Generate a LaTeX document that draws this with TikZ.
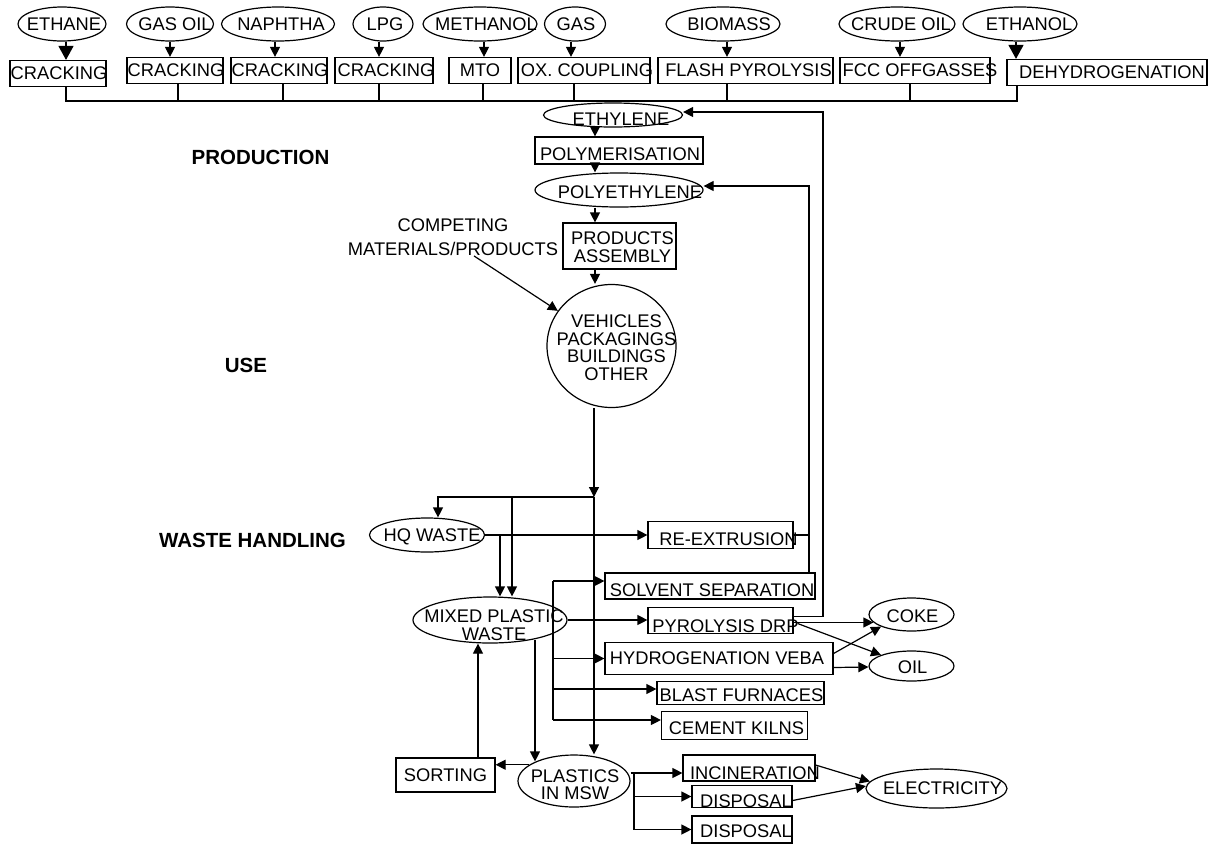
\documentclass[tikz,border=0pt]{standalone}
\usepackage{fontspec}
\setmainfont{Liberation Sans}
\usetikzlibrary{shapes.geometric,arrows.meta}
\newcommand\fsz{\fontsize{18.3}{17.5}\selectfont}
\newcommand\bsz{\fontsize{20.5}{22}\selectfont\bfseries}
\tikzset{
 bx/.style={draw, rectangle, inner sep=0pt, line width=1.2pt},
 el/.style={draw, ellipse, inner sep=0pt, line width=1.2pt},
 every label/.style={font=\fsz, inner sep=0pt, align=center},
 arr/.style={line width=1.2pt, -{Triangle[length=10pt,width=10pt]}},
 bigarr/.style={line width=1.3pt, -{Triangle[length=14pt,width=15pt]}},
 ln/.style={line width=1.2pt},
 sec/.style={font=\bsz, inner sep=0pt},
}
\begin{document}
\begin{tikzpicture}[x=1pt,y=-1pt]
\fill[white] (0,0) rectangle (1217,844);
\useasboundingbox (0,0) rectangle (1217,844);

% --- feedstocks
\node[el, minimum width=88pt, minimum height=34pt, label={[xshift=2pt]center:ETHANE}] (ethane) at (62,24) {};
\node[el, minimum width=87pt, minimum height=34pt, label={[xshift=5pt]center:GAS OIL}] (gasoil) at (170,24) {};
\node[el, minimum width=113pt, minimum height=34pt, label={[xshift=3pt]center:NAPHTHA}] (naphtha) at (278,24) {};
\node[el, minimum width=60pt, minimum height=34pt, label={[xshift=2pt]center:LPG}] (lpg) at (383,24) {};
\node[el, minimum width=114pt, minimum height=34pt, label={[xshift=6pt]center:METHANOL}] (methanol) at (480,24) {};
\node[el, minimum width=61pt, minimum height=34pt, label={[xshift=1pt]center:GAS}] (gas) at (575,24) {};
\node[el, minimum width=114pt, minimum height=34pt, label={[xshift=6pt]center:BIOMASS}] (biomass) at (723,24) {};
\node[el, minimum width=116pt, minimum height=34pt, label={[xshift=4pt]center:CRUDE OIL}] (crude) at (897,24) {};
\node[el, minimum width=114pt, minimum height=34pt, label={[xshift=9pt]center:ETHANOL}] (ethanol) at (1020,24) {};

% --- processes
\node[bx, minimum width=96pt, minimum height=26pt, label={[xshift=1pt]center:CRACKING}] (crack1) at (58,73.5) {};
\node[bx, minimum width=96pt, minimum height=26pt, label={[xshift=1pt]center:CRACKING}] (crack2) at (175,70.5) {};
\node[bx, minimum width=96pt, minimum height=26pt, label={[xshift=1pt]center:CRACKING}] (crack3) at (279,70.5) {};
\node[bx, minimum width=98pt, minimum height=26pt, label={[xshift=2pt]center:CRACKING}] (crack4) at (384,70.5) {};
\node[bx, minimum width=62pt, minimum height=26pt, label={center:MTO}] (mto) at (480,70.5) {};
\node[bx, minimum width=132pt, minimum height=26pt, label={[xshift=3pt]center:OX. COUPLING}] (ox) at (584,70.5) {};
\node[bx, minimum width=175pt, minimum height=26pt, label={[xshift=3pt]center:FLASH PYROLYSIS}] (flash) at (745.5,70.5) {};
\node[bx, minimum width=150pt, minimum height=26pt, label={[xshift=5pt]center:FCC OFFGASSES}] (fcc) at (915,70.5) {};
\node[bx, minimum width=200pt, minimum height=26pt, label={[xshift=5pt]center:DEHYDROGENATION}] (dehydro) at (1107,72.5) {};

\draw[bigarr] (66,0 |- ethane.south) -- (66,0 |- crack1.north);
\draw[arr] (170,0 |- gasoil.south) -- (170,0 |- crack2.north);
\draw[arr] (275,0 |- naphtha.south) -- (275,0 |- crack3.north);
\draw[arr] (379,0 |- lpg.south) -- (379,0 |- crack4.north);
\draw[arr] (484,0 |- methanol.south) -- (484,0 |- mto.north);
\draw[arr] (571,0 |- gas.south) -- (571,0 |- ox.north);
\draw[arr] (727,0 |- biomass.south) -- (727,0 |- flash.north);
\draw[arr] (900,0 |- crude.south) -- (900,0 |- fcc.north);
\draw[bigarr] (1016,0 |- ethanol.south) -- (1016,0 |- dehydro.north);

% --- production chain
\node[el, minimum width=139pt, minimum height=24pt, label={[xshift=8pt,yshift=-4pt]center:ETHYLENE}] (ethylene) at (613,115) {};
\node[bx, minimum width=168pt, minimum height=27pt, label={[xshift=1pt,yshift=-4pt]center:POLYMERISATION}] (polym) at (619,150.5) {};
\node[el, minimum width=168pt, minimum height=34pt, label={[xshift=11pt,yshift=-2pt]center:POLYETHYLENE}] (polyeth) at (619,190) {};
\node[bx, minimum width=113pt, minimum height=46pt, label={[xshift=3pt,yshift=-1pt]center:{PRODUCTS\\ASSEMBLY}}] (products) at (619.5,246) {};
\node[el, minimum width=129pt, minimum height=123pt, label={[xshift=5pt,yshift=-1.5pt]center:{VEHICLES\\PACKAGINGS\\BUILDINGS\\OTHER}}] (usecirc) at (611.5,346) {};
\node[font=\fontsize{18.3}{24.5}\selectfont, align=center, inner sep=0pt] (competing) at (453,237) {COMPETING\\MATERIALS/PRODUCTS};

\coordinate (bus) at (0,101);
\draw[line width=2pt] (66,0 |- crack1.south) -- (66,0 |- bus) -- (1017,0 |- bus) -- (1017,0 |- dehydro.south);
\draw[ln] (178,0 |- crack2.south) -- (178,0 |- bus);
\draw[ln] (283,0 |- crack3.south) -- (283,0 |- bus);
\draw[ln] (379,0 |- crack4.south) -- (379,0 |- bus);
\draw[ln] (483,0 |- mto.south) -- (483,0 |- bus);
\draw[ln] (727,0 |- flash.south) -- (727,0 |- bus);
\draw[ln] (910,0 |- fcc.south) -- (910,0 |- bus);
\draw[ln] (574,0 |- ox.south) -- (574,0 |- ethylene.north);

\draw[arr] (595,0 |- ethylene.south) -- (595,0 |- polym.north);
\draw[arr] (595,0 |- polym.south) -- (595,0 |- polyeth.north);
\draw[arr] (595,0 |- polyeth.south) -- (595,0 |- products.north);
\draw[arr] (595,0 |- products.south) -- (595,0 |- usecirc.north);
\draw[arr] ([xshift=21pt]competing.south) -- (usecirc);

% --- section titles
\node[sec] (production) at (260.5,157.5) {PRODUCTION};
\node[sec] (use) at (246,365.5) {USE};
\node[sec] (wastehandling) at (252.5,540) {WASTE HANDLING};

% --- waste handling
\node[el, minimum width=115pt, minimum height=34pt, label={[xshift=5pt,yshift=-2pt]center:HQ WASTE}] (hq) at (427,535) {};
\node[bx, minimum width=145pt, minimum height=27pt, label={[xshift=8pt,yshift=-4pt]center:RE-EXTRUSION}] (reext) at (720.5,535) {};
\node[bx, minimum width=210pt, minimum height=26pt, label={[xshift=2pt,yshift=-4pt]center:SOLVENT SEPARATION}] (solvent) at (710,586) {};
\node[bx, minimum width=145pt, minimum height=26pt, label={[xshift=5pt,yshift=-6pt]center:PYROLYSIS DRP}] (pyro) at (720.5,620.5) {};
\node[bx, minimum width=228pt, minimum height=32pt, label={[xshift=-2pt]center:HYDROGENATION VEBA}] (hydro) at (719,658.5) {};
\node[bx, minimum width=167pt, minimum height=23pt, label={[xshift=1pt,yshift=-2pt]center:BLAST FURNACES}] (blast) at (740.5,693) {};
\node[bx, minimum width=146pt, minimum height=28pt, label={[xshift=2pt,yshift=-2.5pt]center:CEMENT KILNS}] (cement) at (734.5,725.5) {};
\node[el, minimum width=154pt, minimum height=46pt, label={[xshift=4pt,yshift=-5pt]center:{MIXED PLASTIC\\WASTE}}] (mixed) at (490,620) {};
\node[el, minimum width=85pt, minimum height=33pt, label={[xshift=1pt,yshift=-2pt]center:COKE}] (coke) at (911.5,614.5) {};
\node[el, minimum width=85pt, minimum height=30pt, label={[xshift=1pt,yshift=-1pt]center:OIL}] (oil) at (911.5,666) {};
\node[bx, minimum width=99pt, minimum height=34pt, label={center:SORTING}] (sorting) at (445.5,775) {};
\node[el, minimum width=112pt, minimum height=52pt, label={[xshift=1pt,yshift=-3.5pt]center:{PLASTICS\\IN MSW}}] (msw) at (574,781) {};
\node[bx, minimum width=132pt, minimum height=26pt, label={[xshift=6pt,yshift=-5pt]center:INCINERATION}] (incin) at (749,768) {};
\node[bx, minimum width=100pt, minimum height=22pt, label={[xshift=4pt,yshift=-5pt]center:DISPOSAL}] (disp1) at (742,796.5) {};
\node[bx, minimum width=100pt, minimum height=27pt, label={[xshift=4pt,yshift=-2pt]center:DISPOSAL}] (disp2) at (742,829.5) {};
\node[el, minimum width=141pt, minimum height=39pt, label={[xshift=6pt]center:ELECTRICITY}] (elec) at (936.5,788.5) {};

\coordinate (split) at (594,497);
\draw[arr] (594,0 |- usecirc.south) -- (split);
\draw[arr] (split) -| (438,0 |- hq.north);
\draw[arr] (512,0 |- split) -- (512,0 |- mixed.north);
\draw[arr] (split) -- (594,0 |- msw.north);

\draw[arr] (hq.east) -- (hq.east -| reext.west);
\draw[arr] (500,0 |- hq.east) -- (500,0 |- mixed.north);
\coordinate (pe) at ([yshift=4pt]polyeth.east);
\draw[arr] (reext.east) -| (809,0 |- pe) -- (pe);
\draw[ln] (809,0 |- solvent.north) -- (809,0 |- reext.east);
\coordinate (et) at ([yshift=3pt]ethylene.east);
\draw[arr] ([yshift=4pt]pyro.east) -| (823,0 |- et) -- (et);

\draw[arr] (mixed.east) -- (mixed.east -| pyro.west);
\coordinate (dtop) at (553,581);
\coordinate (dbot) at (553,720);
\coordinate (bl) at ([yshift=4pt]blast.west);
\coordinate (cm) at ([yshift=5.5pt]cement.west);
\draw[ln] (dtop) -- (dbot);
\draw[arr] (dtop) -- (dtop -| solvent.west);
\draw[arr] (dtop |- hydro.west) -- (hydro.west);
\draw[arr] (dtop |- bl) -- (bl);
\draw[arr] (dtop |- cm) -- (cm);

\draw[arr] ([yshift=-2pt]pyro.east) -- ([xshift=5pt,yshift=-8pt]coke.west);
\draw[arr] ([xshift=4pt,yshift=-3pt]pyro.east) -- (oil.north west);
\draw[arr] ([yshift=5pt]hydro.east) -- (coke.south west);
\draw[arr] ([yshift=-9pt]hydro.east) -- ([yshift=-1pt]oil.west);

\draw[arr] (msw.160) -- (msw.160 -| sorting.east);
\draw[arr] (478,0 |- sorting.north) -- (478,0 |- mixed.south);
\draw[arr] ([xshift=45pt,yshift=4pt]mixed.south) -- ([xshift=-39pt,yshift=-7pt]msw.north);

\coordinate (mo) at (634,773);
\draw[arr] ([yshift=8pt]msw.east) -- ([yshift=-5pt]incin.west);
\draw[arr] (mo) |- (disp1.west);
\draw[arr] (mo) |- (disp2.west);
\draw[arr] ([yshift=3pt]incin.east) -- (elec.174);
\draw[arr] ([yshift=-4pt]disp1.east) -- (elec.178);
\end{tikzpicture}
\end{document}
